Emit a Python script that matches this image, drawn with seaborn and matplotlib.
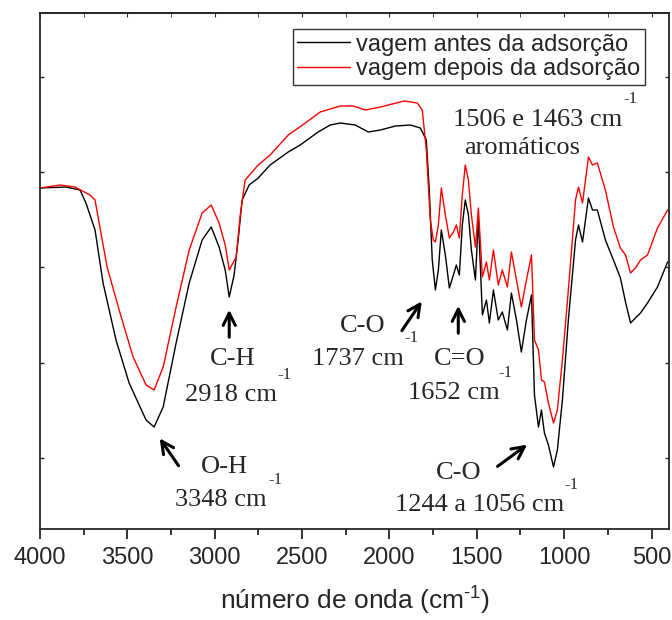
import numpy as np
import pandas as pd
import matplotlib
matplotlib.use('Agg')
import matplotlib.pyplot as plt
import seaborn as sns
from matplotlib.ticker import MultipleLocator

# FTIR spectra (wavenumber in cm-1, transmittance in arbitrary units)
wn_antes = [4000, 3851, 3771, 3737, 3685, 3639, 3565, 3490, 3393, 3347, 3295, 3221, 3146,
            3072, 3020, 2975, 2940, 2917, 2889, 2866, 2843, 2803, 2751, 2683, 2579, 2511,
            2408, 2339, 2282, 2196, 2121, 2052, 1966, 1881, 1823, 1789, 1772, 1755, 1737,
            1720, 1703, 1680, 1657, 1634, 1617, 1600, 1583, 1566, 1548, 1531, 1508, 1491,
            1468, 1445, 1428, 1405, 1377, 1354, 1325, 1302, 1273, 1245, 1216, 1187, 1170,
            1147, 1130, 1113, 1090, 1061, 1039, 1010, 976, 935, 918, 895, 861, 838, 810,
            764, 718, 678, 649, 620, 592, 563, 523, 466, 408]
t_antes = [341, 342, 339, 326, 299, 246, 189, 146, 109, 102, 122, 186, 246,
           289, 302, 282, 259, 232, 254, 289, 329, 344, 351, 364, 377, 384,
           397, 404, 406, 404, 397, 399, 403, 404, 401, 389, 339, 269, 239,
           259, 299, 274, 241, 254, 264, 254, 304, 329, 314, 279, 249, 310,
           214, 229, 206, 239, 209, 217, 199, 236, 209, 177, 209, 234, 134,
           102, 119, 96, 84, 62, 79, 129, 209, 289, 304, 287, 331, 319, 319,
           289, 269, 251, 227, 206, 211, 216, 226, 242, 267]

wn_depois = [4000, 3885, 3800, 3714, 3685, 3616, 3542, 3467, 3393, 3347, 3295, 3221, 3146,
             3072, 3020, 2975, 2940, 2917, 2877, 2854, 2826, 2751, 2683, 2579, 2505, 2396,
             2282, 2207, 2138, 2052, 1915, 1841, 1812, 1789, 1766, 1749, 1737, 1720, 1703,
             1680, 1657, 1634, 1617, 1600, 1583, 1566, 1548, 1531, 1508, 1491, 1468, 1445,
             1428, 1405, 1377, 1354, 1325, 1302, 1273, 1245, 1216, 1187, 1170, 1147, 1130,
             1113, 1090, 1061, 1039, 1010, 976, 935, 918, 895, 861, 838, 810, 764, 718,
             678, 649, 620, 592, 563, 523, 466, 408]
t_depois = [341, 344, 342, 334, 329, 262, 216, 172, 144, 139, 162, 222, 279,
            316, 324, 306, 284, 259, 272, 314, 349, 364, 374, 394, 403, 417,
            423, 423, 419, 422, 428, 426, 419, 379, 309, 289, 287, 304, 341,
            314, 291, 297, 304, 291, 334, 364, 349, 314, 282, 321, 252, 267,
            249, 279, 244, 259, 242, 277, 249, 222, 249, 274, 189, 179, 149,
            147, 126, 106, 119, 169, 239, 329, 342, 326, 372, 364, 366, 339, 302,
            281, 274, 256, 261, 269, 274, 301, 319]

labels = ['vagem antes da adsorção', 'vagem depois da adsorção']
colors = ['black', 'red']
xticks = [4000, 3500, 3000, 2500, 2000, 1500, 1000, 500]

df = pd.concat([
    pd.DataFrame({'wn': wn_antes, 't': t_antes, 'amostra': labels[0]}),
    pd.DataFrame({'wn': wn_depois, 't': t_depois, 'amostra': labels[1]}),
])

sns.set_style('ticks')
plt.rcParams['font.family'] = ['Liberation Sans', 'DejaVu Sans']
plt.rcParams['mathtext.default'] = 'regular'

fig = plt.figure(figsize=(6.72, 6.2), dpi=100)
ax = fig.add_axes([40/672, 1-529/620, 629/672, 516/620])

sns.lineplot(data=df, x='wn', y='t', hue='amostra', palette=colors, lw=1.0, ax=ax,
             estimator=None, sort=True)

ax.set_xlim(4000, 400)
ax.set_ylim(0, 516)
ax.set_xticks(xticks)
ax.xaxis.set_minor_locator(MultipleLocator(250))
ax.set_yticks(np.arange(71, 516, 95.3))
ax.tick_params(axis='x', which='major', direction='out', length=7, width=1.3, labelsize=17, pad=6)
ax.tick_params(axis='x', which='minor', direction='out', length=4, width=1.3)
ax.tick_params(axis='y', direction='in', length=3, width=1.0, left=True, right=True, labelleft=False)
top = ax.secondary_xaxis('top')
top.set_xticks(xticks)
top.xaxis.set_minor_locator(MultipleLocator(250))
top.tick_params(which='both', direction='in', length=3, labeltop=False)
for s in top.spines.values():
    s.set_linewidth(1.3)
for s in ax.spines.values():
    s.set_linewidth(1.3)

ax.set_xlabel('número de onda (cm$^{\u2010 1}$)', fontsize=19, labelpad=11)
ax.set_ylabel('')

leg = ax.legend(loc='upper right', bbox_to_anchor=(0.962, 0.969), fontsize=17, frameon=True,
                fancybox=False, edgecolor='black', handlelength=2.25, handletextpad=0.25,
                labelspacing=0.1, borderpad=0.2, borderaxespad=0)
leg.get_frame().set_linewidth(1.0)
for line in leg.get_lines():
    line.set_linewidth(1.0)

# annotations
serif = ['Liberation Serif', 'DejaVu Serif']
big = 19
sup = 12
arrow = dict(arrowstyle='->', lw=2.2, color='black', mutation_scale=22)

texts = [
    ('C-H', 2895, 170), ('2918 cm', 2906, 134),
    ('O-H', 2946, 62), ('3348 cm', 2963, 29),
    ('C-O', 2156, 203), ('1737 cm', 2178, 170),
    ('C=O', 1600, 170), ('1652 cm', 1629, 136),
    ('C-O', 1606, 56), ('1244 a 1056 cm', 1485, 24),
    ('1506 e 1463 cm', 1153, 409), ('aromáticos', 1239, 381),
]
for s, x, y in texts:
    ax.text(x, y, s, fontsize=big, family=serif, ha='center', va='center')

sups = [(2602, 154), (2654, 49), (1875, 191), (1336, 156), (958, 44), (620, 430)]
for x, y in sups:
    ax.text(x, y, '-1', fontsize=sup, family=serif, ha='center', va='center')

arrows = [((2917, 189), (2917, 222)), ((3198, 61), (3324, 93)), ((1938, 196), (1806, 230)),
          ((1606, 193), (1606, 226)), ((1394, 61), (1199, 86))]
for start, tip in arrows:
    ax.annotate('', xy=tip, xytext=start, arrowprops=arrow)

fig.savefig('out.png', dpi=100)
